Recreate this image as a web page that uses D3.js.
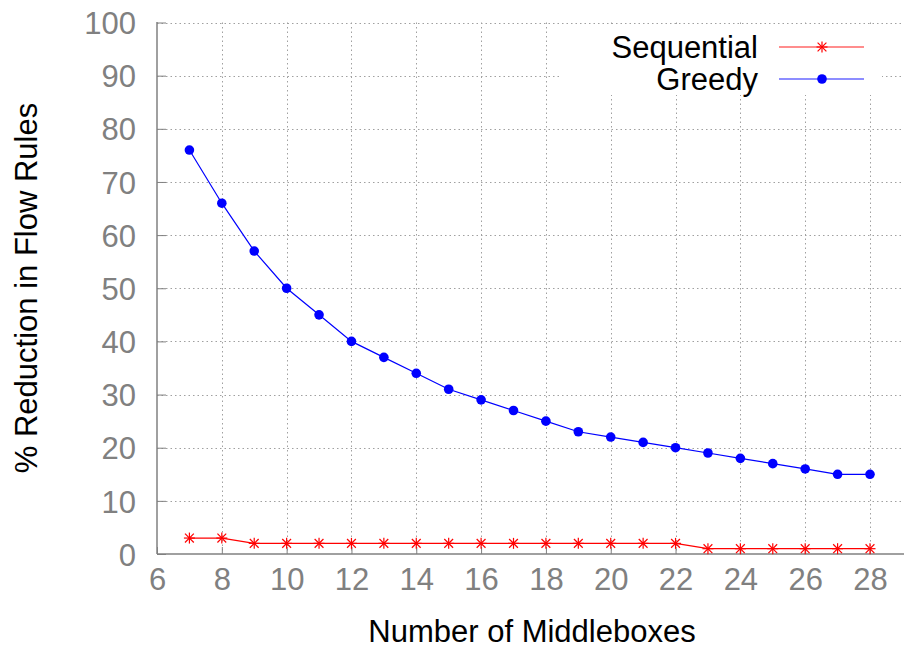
<!DOCTYPE html>
<html>
<head>
<meta charset="utf-8">
<script src="https://cdn.jsdelivr.net/npm/d3@7"></script>
<style>
  body { margin: 0; background: #fff; }
  text { font-family: "Liberation Sans", Arial, sans-serif; }
</style>
</head>
<body>
<div id="svg"></div>
<script>
// data
var middleboxes = [7, 8, 9, 10, 11, 12, 13, 14, 15, 16, 17, 18, 19, 20, 21, 22, 23, 24, 25, 26, 27, 28];
var sequential = [3, 3, 2, 2, 2, 2, 2, 2, 2, 2, 2, 2, 2, 2, 2, 2, 1, 1, 1, 1, 1, 1];
var greedy = [76, 66, 57, 50, 45, 40, 37, 34, 31, 29, 27, 25, 23, 22, 21, 20, 19, 18, 17, 16, 15, 15];
var xTicks = [6, 8, 10, 12, 14, 16, 18, 20, 22, 24, 26, 28];
var yTicks = [0, 10, 20, 30, 40, 50, 60, 70, 80, 90, 100];

var width = 904, height = 652;
var plotLeft = 157, plotTop = 22.5, plotBottom = 554, plotRight = 904;

var svg = d3.select("#svg")
    .append("svg")
    .attr("width", width)
    .attr("height", height);

var x = d3.scaleLinear().domain([6, 28]).range([plotLeft, 870]);
var y = d3.scaleLinear().domain([0, 100]).range([plotBottom, plotTop]);

// grid
svg.append("g").selectAll("line")
    .data(yTicks.slice(1))
    .enter().append("line")
    .attr("x1", plotLeft).attr("x2", plotRight)
    .attr("y1", function(d) { return Math.round(y(d)) + 0.5; })
    .attr("y2", function(d) { return Math.round(y(d)) + 0.5; })
    .attr("stroke", "#a0a0a0")
    .attr("stroke-dasharray", "1.5,3");

svg.append("g").selectAll("line")
    .data(xTicks.slice(1))
    .enter().append("line")
    .attr("x1", function(d) { return Math.round(x(d)) + 0.5; })
    .attr("x2", function(d) { return Math.round(x(d)) + 0.5; })
    .attr("y1", plotTop).attr("y2", plotBottom)
    .attr("stroke", "#a0a0a0")
    .attr("stroke-dasharray", "1.5,3");

// white box behind legend
svg.append("rect")
    .attr("x", 562).attr("y", 27)
    .attr("width", 320).attr("height", 68)
    .attr("fill", "#fff");

// axes
var xAxis = d3.axisBottom(x).tickValues(xTicks).tickSizeInner(-7).tickSizeOuter(0).tickPadding(14);
var yAxis = d3.axisLeft(y).tickValues(yTicks).tickSizeInner(-9).tickSizeOuter(0).tickPadding(21);

var gx = svg.append("g").attr("transform", "translate(0," + plotBottom + ")").call(xAxis);
var gy = svg.append("g").attr("transform", "translate(" + plotLeft + ",0)").call(yAxis);

[gx, gy].forEach(function(g) {
    g.select(".domain").remove();
    g.selectAll(".tick line").attr("stroke", "#808080");
    g.selectAll(".tick text")
        .attr("fill", "#808080")
        .style("font-size", "31px")
        .style("font-family", "'Liberation Sans', Arial, sans-serif");
});
gx.selectAll(".tick text").attr("dy", "0.71em");
gy.selectAll(".tick text").attr("dy", "0.36em");

svg.append("line")
    .attr("x1", plotLeft).attr("x2", plotRight)
    .attr("y1", plotBottom).attr("y2", plotBottom)
    .attr("stroke", "#808080").attr("stroke-width", 1.5);
svg.append("line")
    .attr("x1", plotLeft).attr("x2", plotLeft)
    .attr("y1", plotTop - 0.5).attr("y2", plotBottom)
    .attr("stroke", "#808080").attr("stroke-width", 1.5);

// axis titles
svg.append("text")
    .attr("x", 532).attr("y", 642)
    .attr("text-anchor", "middle")
    .style("font-size", "31px")
    .text("Number of Middleboxes");

svg.append("text")
    .attr("transform", "translate(37,288) rotate(-90)")
    .attr("text-anchor", "middle")
    .style("font-size", "31px")
    .text("% Reduction in Flow Rules");

// series
var line = d3.line()
    .x(function(d) { return x(d[0]); })
    .y(function(d) { return y(d[1]); });

var seqData = d3.zip(middleboxes, sequential);
var greedyData = d3.zip(middleboxes, greedy);

function star(g, cx, cy, r) {
    var s = g.append("g").attr("transform", "translate(" + cx + "," + cy + ")")
        .attr("stroke", "#ff0000").attr("stroke-width", 1.2);
    s.append("line").attr("x1", -r).attr("x2", r).attr("y1", 0).attr("y2", 0);
    s.append("line").attr("x1", 0).attr("x2", 0).attr("y1", -r).attr("y2", r);
    s.append("line").attr("x1", -r * 0.8).attr("x2", r * 0.8).attr("y1", -r * 0.8).attr("y2", r * 0.8);
    s.append("line").attr("x1", -r * 0.8).attr("x2", r * 0.8).attr("y1", r * 0.8).attr("y2", -r * 0.8);
}

svg.append("path")
    .datum(greedyData)
    .attr("d", line)
    .attr("fill", "none")
    .attr("stroke", "#0000ff")
    .attr("stroke-width", 1.2);

svg.append("g").selectAll("circle")
    .data(greedyData)
    .enter().append("circle")
    .attr("cx", function(d) { return x(d[0]); })
    .attr("cy", function(d) { return y(d[1]); })
    .attr("r", 4.8)
    .attr("fill", "#0000ff");

svg.append("path")
    .datum(seqData)
    .attr("d", line)
    .attr("fill", "none")
    .attr("stroke", "#ff0000")
    .attr("stroke-width", 1.2);

var stars = svg.append("g");
seqData.forEach(function(d) { star(stars, x(d[0]), y(d[1]), 5.5); });

// legend
var legend = [
    { name: "Sequential", color: "#ff0000", ly: 47 },
    { name: "Greedy", color: "#0000ff", ly: 79 }
];
legend.forEach(function(l) {
    svg.append("text")
        .attr("x", 758).attr("y", l.ly + 11)
        .attr("text-anchor", "end")
        .style("font-size", "31px")
        .text(l.name);
    svg.append("line")
        .attr("x1", 779).attr("x2", 864)
        .attr("y1", l.ly).attr("y2", l.ly)
        .attr("stroke", l.color).attr("stroke-opacity", 0.6).attr("stroke-width", 1.5);
});
star(svg, 822, 47, 5.5);
svg.append("circle").attr("cx", 822).attr("cy", 79).attr("r", 4.8).attr("fill", "#0000ff");
</script>
</body>
</html>
